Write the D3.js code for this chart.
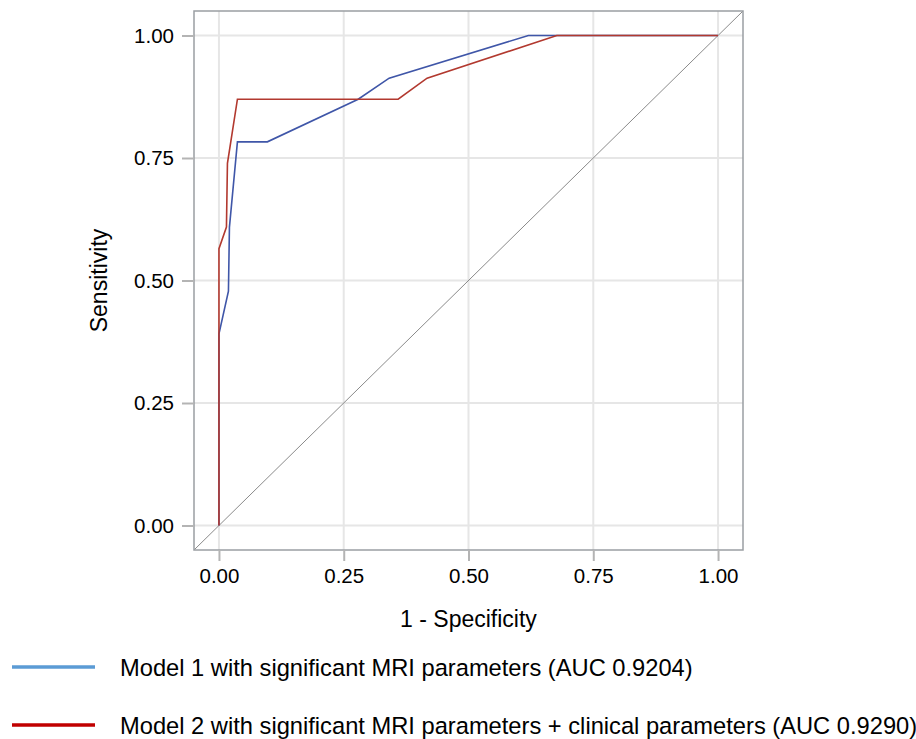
<!DOCTYPE html>
<html><head><meta charset="utf-8">
<script src="https://cdn.jsdelivr.net/npm/d3@7"></script>
<style>body{margin:0;background:#fff}svg{display:block}text{font-family:"Liberation Sans",Arial,sans-serif;fill:#000}</style>
</head><body><svg id="c" width="916" height="739"></svg>
<script>
const model1FPR  = [0, 0, 0.019, 0.021, 0.037, 0.097, 0.279, 0.341, 0.620, 1.0];
const model1Sens = [0, 0.391, 0.478, 0.609, 0.783, 0.783, 0.870, 0.913, 1.0, 1.0];
const model2FPR  = [0, 0, 0.015, 0.017, 0.037, 0.359, 0.417, 0.677, 1.0];
const model2Sens = [0, 0.565, 0.609, 0.739, 0.870, 0.870, 0.913, 1.0, 1.0];
const tickValues = [0, 0.25, 0.5, 0.75, 1.0];
const legendLabels = ["Model 1 with significant MRI parameters (AUC 0.9204)",
                      "Model 2 with significant MRI parameters + clinical parameters (AUC 0.9290)"];

const svg = d3.select("#c");
const x = d3.scaleLinear().domain([-0.05, 1.05]).range([194, 743]);
const y = d3.scaleLinear().domain([-0.05, 1.05]).range([550, 11]);
const fmt = d3.format(".2f");

// gridlines
const g = svg.append("g");
g.selectAll(".gx").data(tickValues).join("line")
  .attr("x1", d => x(d)).attr("x2", d => x(d)).attr("y1", y(-0.05)).attr("y2", y(1.05))
  .attr("stroke", "#e6e6e6").attr("stroke-width", 2);
g.selectAll(".gy").data(tickValues).join("line")
  .attr("y1", d => y(d)).attr("y2", d => y(d)).attr("x1", x(-0.05)).attr("x2", x(1.05))
  .attr("stroke", "#e6e6e6").attr("stroke-width", 2);

// diagonal
svg.append("line").attr("x1", x(-0.05)).attr("y1", y(-0.05)).attr("x2", x(1.05)).attr("y2", y(1.05))
  .attr("stroke", "#8a8a8a").attr("stroke-width", 1);

// curves
const line = d3.line().x(d => x(d[0])).y(d => y(d[1]));
const m1 = model1FPR.map((v, i) => [v, model1Sens[i]]);
const m2 = model2FPR.map((v, i) => [v, model2Sens[i]]);
svg.append("path").datum(m1).attr("d", line).attr("fill", "none").attr("stroke", "#3f56a8").attr("stroke-width", 1.6);
svg.append("path").datum(m2).attr("d", line).attr("fill", "none").attr("stroke", "#b2392f").attr("stroke-width", 1.6);

// frame
svg.append("rect").attr("x", x(-0.05)).attr("y", y(1.05)).attr("width", x(1.05) - x(-0.05)).attr("height", y(-0.05) - y(1.05))
  .attr("fill", "none").attr("stroke", "#9a9ea3").attr("stroke-width", 1.5);

// axes
const xAxis = svg.append("g").attr("transform", `translate(0,${y(-0.05)})`)
  .call(d3.axisBottom(x).tickValues(tickValues).tickFormat(fmt).tickSize(11).tickPadding(7));
const yAxis = svg.append("g").attr("transform", `translate(${x(-0.05)},0)`)
  .call(d3.axisLeft(y).tickValues(tickValues).tickFormat(fmt).tickSize(12).tickPadding(8));
[xAxis, yAxis].forEach(a => {
  a.select(".domain").remove();
  a.selectAll(".tick line").attr("stroke", "#b4b4b4").attr("stroke-width", 2);
  a.selectAll(".tick text").style("font-size", "20.5px").style("font-family", "Liberation Sans, Arial, sans-serif").attr("fill", "#000");
});

svg.append("text").attr("x", x(0.5)).attr("y", 627).attr("text-anchor", "middle").style("font-size", "23px").text("1 - Specificity");
svg.append("text").attr("transform", `translate(107,${y(0.5)}) rotate(-90)`).attr("text-anchor", "middle").style("font-size", "23px").text("Sensitivity");

// legend
const legColors = ["#5b9bd5", "#c00000"];
const legY = [667, 725];
legendLabels.forEach((t, i) => {
  svg.append("line").attr("x1", 12).attr("x2", 95).attr("y1", legY[i]).attr("y2", legY[i])
    .attr("stroke", legColors[i]).attr("stroke-width", 3.5);
  svg.append("text").attr("x", 120).attr("y", legY[i] + 8.5).style("font-size", "23.7px").text(t);
});
</script></body></html>
